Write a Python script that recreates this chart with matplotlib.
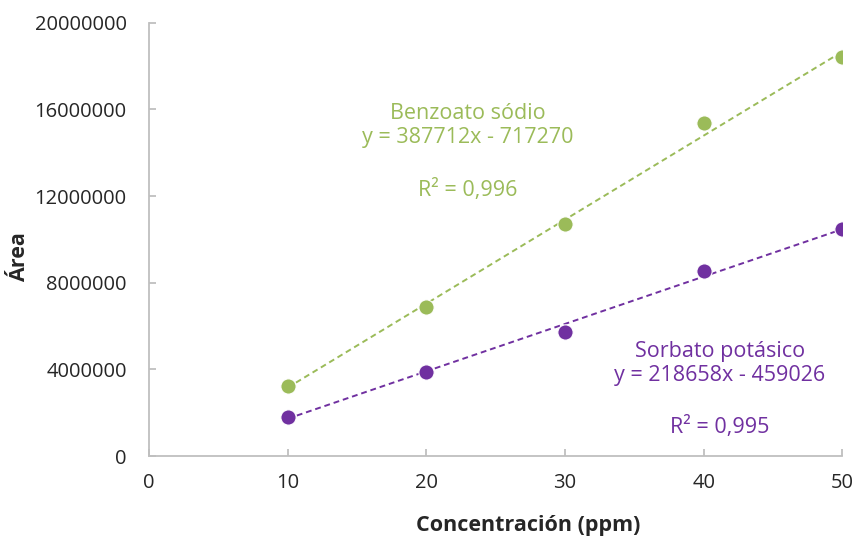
import matplotlib
matplotlib.use("Agg")
import matplotlib.pyplot as plt
import numpy as np

conc = [10, 20, 30, 40, 50]
benzoato = [3230000, 6880000, 10720000, 15380000, 18430000]
sorbato = [1800000, 3880000, 5730000, 8550000, 10490000]
benz_fit = (387712, -717270)
sorb_fit = (218658, -459026)
x_ticks = [0, 10, 20, 30, 40, 50]
y_ticks = [0, 4000000, 8000000, 12000000, 16000000, 20000000]

green = "#9BBB59"
purple = "#7030A0"
gray = "#BFBFBF"

plt.rcParams['font.family'] = ['Open Sans', 'DejaVu Sans']

fig = plt.figure(figsize=(8.56, 5.43), dpi=100)
ax = fig.add_axes([0.174, 0.160, 0.810, 0.798])

xf = np.array([conc[0], conc[-1]])
ax.plot(xf, benz_fit[0] * xf + benz_fit[1], linestyle=(0, (3, 2)), color=green, lw=1.4, zorder=2)
ax.plot(xf, sorb_fit[0] * xf + sorb_fit[1], linestyle=(0, (3, 2)), color=purple, lw=1.4, zorder=2)
ax.plot(conc, benzoato, 'o', color=green, ms=11, mec='white', mew=0.8, zorder=3)
ax.plot(conc, sorbato, 'o', color=purple, ms=11, mec='white', mew=0.8, zorder=3)

ax.set_xlim(0, 50)
ax.set_ylim(0, 20000000)
ax.set_xticks(x_ticks)
ax.set_yticks(y_ticks)
ax.set_xticklabels([str(v) for v in x_ticks])
ax.set_yticklabels([str(v) for v in y_ticks])
for s in ['top', 'right']:
    ax.spines[s].set_visible(False)
for s in ['left', 'bottom']:
    ax.spines[s].set_color(gray)
    ax.spines[s].set_linewidth(1.3)
ax.tick_params(axis='both', direction='in', length=5, width=1.3, color=gray,
               labelsize=14.5, labelcolor='#262626')
ax.tick_params(axis='x', pad=12)
ax.tick_params(axis='y', pad=16)

ax.text(0.46, 0.763, "Benzoato sódio\ny = 387712x - 717270", transform=ax.transAxes,
        ha='center', va='center', color=green, fontsize=15.5, linespacing=1.2)
ax.text(0.46, 0.614, "R² = 0,996", transform=ax.transAxes,
        ha='center', va='center', color=green, fontsize=15.5)
ax.text(0.823, 0.214, "Sorbato potásico\ny = 218658x - 459026", transform=ax.transAxes,
        ha='center', va='center', color=purple, fontsize=15.5, linespacing=1.2)
ax.text(0.823, 0.067, "R² = 0,995", transform=ax.transAxes,
        ha='center', va='center', color=purple, fontsize=15.5)

fig.text(528 / 856, 1 - 525 / 543, "Concentración (ppm)", ha='center', va='center',
         fontsize=15.5, fontweight='bold', color='#262626')
fig.text(20 / 856, 1 - 257 / 543, "Área", ha='center', va='center', rotation=90,
         fontsize=15.5, fontweight='bold', color='#262626')

fig.savefig("out.png", dpi=100)
